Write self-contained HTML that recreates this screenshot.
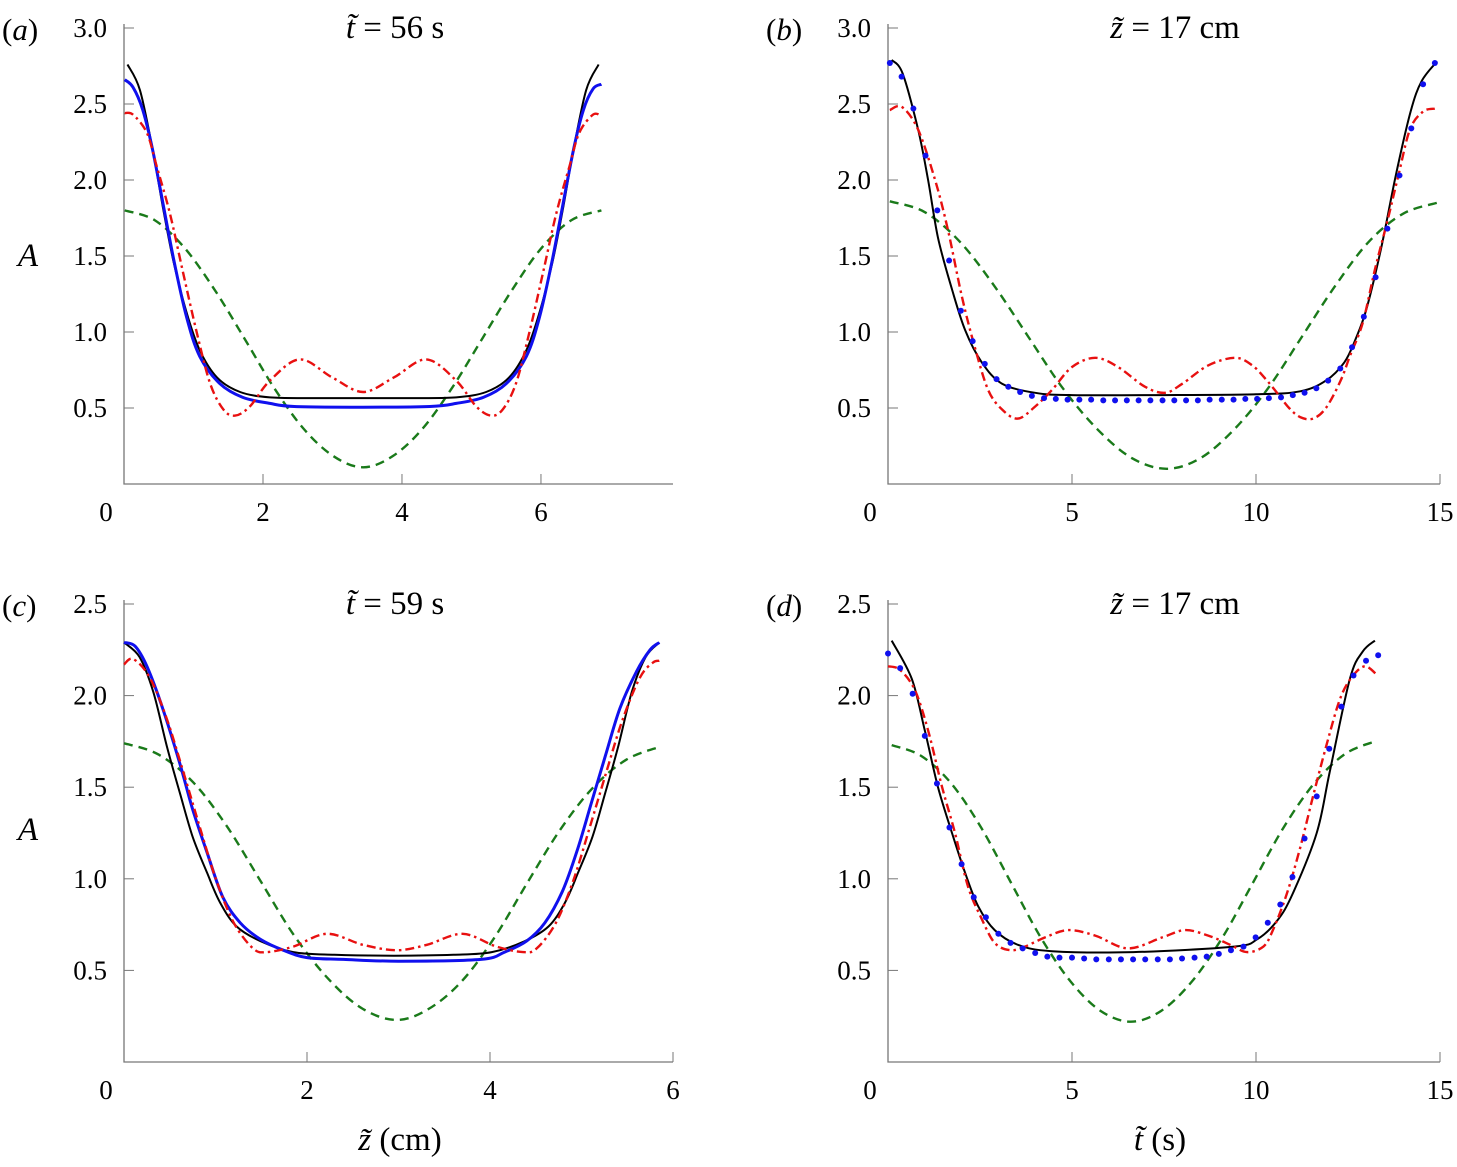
<!DOCTYPE html>
<html><head><meta charset="utf-8">
<style>
html,body{margin:0;padding:0;background:#fff;}
svg{display:block;font-family:"Liberation Serif",serif;}
</style></head>
<body>
<svg id="fig" width="1457" height="1167" viewBox="0 0 1457 1167"></svg>
<script>
// ---------- Panel (a): t = 56 s, x = z (cm) ----------
const aBlackX=[0.05,0.23,0.42,0.56,0.71,0.9,1.09,1.34,1.67,2.1,2.7,3.44,4.18,4.78,5.21,5.54,5.79,5.98,6.17,6.32,6.46,6.65,6.83];
const aBlackY=[2.76,2.59,2.18,1.82,1.47,1.13,0.88,0.70,0.605,0.57,0.565,0.565,0.565,0.57,0.605,0.70,0.88,1.13,1.47,1.82,2.18,2.59,2.76];
const aBlueX=[0.01,0.13,0.27,0.42,0.71,0.9,1.09,1.38,1.71,2.1,2.45,3.44,4.4,4.78,5.17,5.5,5.79,5.98,6.17,6.46,6.61,6.75,6.87];
const aBlueY=[2.66,2.61,2.46,2.18,1.49,1.1,0.84,0.66,0.57,0.53,0.51,0.505,0.51,0.53,0.57,0.66,0.84,1.1,1.49,2.18,2.46,2.6,2.63];
const aRedX=[0.01,0.13,0.33,0.47,0.66,0.85,1.05,1.24,1.43,1.6,1.81,2.1,2.53,3.0,3.44,3.88,4.35,4.78,5.07,5.28,5.45,5.64,5.83,6.03,6.22,6.41,6.55,6.75,6.87];
const aRedY=[2.44,2.43,2.31,2.09,1.78,1.39,0.99,0.66,0.49,0.45,0.51,0.68,0.82,0.7,0.605,0.7,0.82,0.68,0.51,0.45,0.49,0.66,0.99,1.39,1.78,2.09,2.31,2.43,2.42];
const aGreenX=[0.01,0.44,0.87,1.3,1.73,2.15,2.58,3.01,3.44,3.87,4.3,4.73,5.16,5.59,6.01,6.44,6.87];
const aGreenY=[1.8,1.736,1.554,1.281,0.96,0.639,0.366,0.184,0.11,0.184,0.366,0.639,0.96,1.281,1.554,1.736,1.8];
// ---------- Panel (b): z = 17 cm, x = t (s) ----------
const bBlackX=[0.1,0.4,0.82,1.09,1.36,1.74,2.1,2.55,3.1,4.0,5.0,7.5,10.0,11.2,11.9,12.4,12.7,13.0,13.4,13.8,14.2,14.5,14.92];
const bBlackY=[2.79,2.7,2.33,2.0,1.62,1.28,1.01,0.8,0.66,0.6,0.585,0.585,0.59,0.61,0.68,0.8,0.95,1.15,1.55,2.03,2.45,2.65,2.78];
const bDotX=[0.05,0.37,0.69,1.02,1.34,1.66,1.98,2.30,2.63,2.95,3.27,3.59,3.91,4.24,4.56,4.88,5.20,5.52,5.85,6.17,6.49,6.81,7.13,7.46,7.78,8.10,8.42,8.74,9.07,9.39,9.71,10.03,10.35,10.68,11.00,11.32,11.64,11.96,12.29,12.61,12.93,13.25,13.57,13.90,14.22,14.54,14.86];
const bDotY=[2.77,2.68,2.47,2.16,1.8,1.47,1.14,0.94,0.79,0.69,0.64,0.605,0.58,0.565,0.56,0.555,0.555,0.555,0.55,0.55,0.55,0.55,0.55,0.55,0.55,0.55,0.55,0.555,0.555,0.555,0.56,0.56,0.565,0.57,0.585,0.6,0.63,0.68,0.76,0.9,1.1,1.36,1.68,2.03,2.34,2.63,2.77];
const bRedX=[0.05,0.38,0.82,1.28,1.63,2.01,2.36,2.72,3.1,3.53,4.0,4.46,5.0,5.63,6.25,6.98,7.53,8.0,8.7,9.43,9.9,10.3,10.57,10.9,11.2,11.55,11.9,12.3,12.55,12.9,13.23,13.56,13.86,14.18,14.54,14.86];
const bRedY=[2.46,2.48,2.33,2.0,1.67,1.23,0.9,0.62,0.49,0.43,0.51,0.62,0.77,0.83,0.77,0.64,0.6,0.66,0.78,0.83,0.78,0.68,0.6,0.5,0.44,0.43,0.5,0.68,0.84,1.06,1.41,1.72,2.02,2.33,2.45,2.47];
const bGreenX=[0.05,0.99,1.93,2.87,3.81,4.75,5.69,6.63,7.57,8.49,9.41,10.33,11.25,12.17,13.09,14.01,14.92];
const bGreenY=[1.86,1.79,1.6,1.31,0.97,0.63,0.36,0.17,0.1,0.17,0.36,0.63,0.97,1.31,1.6,1.78,1.85];
// ---------- Panel (c): t = 59 s ----------
const cBlackX=[0.0,0.17,0.32,0.47,0.61,0.75,0.91,1.05,1.23,1.49,1.85,2.3,2.95,3.6,4.02,4.38,4.64,4.82,4.96,5.12,5.26,5.4,5.55,5.7,5.85];
const cBlackY=[2.29,2.21,2.02,1.72,1.47,1.23,1.03,0.87,0.74,0.66,0.6,0.585,0.58,0.585,0.6,0.66,0.74,0.87,1.03,1.23,1.47,1.72,2.02,2.21,2.29];
const cBlueX=[0.0,0.12,0.25,0.43,0.61,0.75,0.91,1.08,1.27,1.49,1.74,2.0,2.4,3.0,3.9,4.16,4.4,4.6,4.79,4.95,5.1,5.26,5.42,5.6,5.75,5.85];
const cBlueY=[2.29,2.27,2.16,1.92,1.63,1.38,1.14,0.9,0.76,0.67,0.61,0.57,0.56,0.55,0.56,0.6,0.66,0.76,0.93,1.15,1.4,1.67,1.93,2.13,2.25,2.29];
const cRedX=[0.0,0.1,0.28,0.47,0.65,0.83,1.01,1.2,1.41,1.56,1.85,2.22,2.61,2.98,3.31,3.7,4.07,4.36,4.51,4.72,4.91,5.09,5.27,5.45,5.64,5.78,5.85];
const cRedY=[2.17,2.2,2.1,1.87,1.58,1.28,0.99,0.76,0.62,0.6,0.63,0.7,0.64,0.61,0.64,0.7,0.63,0.6,0.62,0.76,0.99,1.28,1.58,1.87,2.1,2.18,2.19];
const cGreenX=[0.0,0.37,0.75,1.12,1.49,1.86,2.24,2.61,2.98,3.33,3.69,4.05,4.41,4.77,5.13,5.49,5.85];
const cGreenY=[1.74,1.68,1.53,1.29,0.99,0.69,0.45,0.29,0.23,0.29,0.44,0.68,0.98,1.27,1.5,1.65,1.72];
// ---------- Panel (d): z = 17 cm ----------
const dBlackX=[0.1,0.65,1.0,1.36,1.74,2.1,2.45,2.9,3.53,4.46,6.67,9.4,10.03,10.57,11.0,11.65,12.0,12.55,12.9,13.23];
const dBlackY=[2.3,2.09,1.81,1.5,1.25,1.03,0.85,0.72,0.64,0.605,0.6,0.63,0.67,0.77,0.92,1.25,1.58,2.09,2.24,2.3];
const dDotX=[0,0.33,0.67,1.0,1.33,1.67,2.0,2.33,2.66,3.0,3.33,3.66,4.0,4.33,4.66,5.0,5.33,5.66,6.0,6.33,6.66,6.99,7.33,7.66,7.99,8.33,8.66,8.99,9.32,9.66,9.99,10.32,10.66,10.99,11.32,11.65,11.99,12.32,12.65,12.99,13.32];
const dDotY=[2.23,2.15,2.01,1.78,1.52,1.28,1.08,0.9,0.79,0.7,0.65,0.62,0.595,0.575,0.57,0.57,0.565,0.56,0.56,0.56,0.56,0.56,0.56,0.56,0.565,0.57,0.575,0.59,0.61,0.63,0.68,0.76,0.86,1.01,1.22,1.45,1.71,1.94,2.11,2.19,2.22];
const dRedX=[0.0,0.33,0.73,1.09,1.47,1.82,2.17,2.55,2.9,3.32,3.72,4.27,4.89,5.63,6.52,7.45,8.07,8.7,9.3,9.75,10.2,10.46,10.84,11.2,11.55,11.93,12.28,12.6,12.96,13.3];
const dRedY=[2.16,2.14,2.03,1.81,1.5,1.25,0.96,0.78,0.65,0.61,0.63,0.68,0.72,0.69,0.62,0.68,0.72,0.69,0.64,0.6,0.63,0.72,0.92,1.17,1.45,1.74,1.98,2.1,2.16,2.11];
const dGreenX=[0.1,0.91,1.72,2.53,3.34,4.15,4.96,5.77,6.6,7.43,8.26,9.09,9.92,10.75,11.58,12.41,13.23];
const dGreenY=[1.73,1.67,1.52,1.28,0.98,0.68,0.44,0.28,0.22,0.28,0.44,0.68,0.98,1.28,1.52,1.68,1.75];

const xTicksA=[2,4,6], xTicksB=[5,10,15], xTicksC=[2,4,6], xTicksD=[5,10,15];
const yTicksTop=[0.5,1.0,1.5,2.0,2.5,3.0], yTicksBot=[0.5,1.0,1.5,2.0,2.5];

const NS="http://www.w3.org/2000/svg";
const svg=document.getElementById('fig');
function el(tag,attrs,parent){const e=document.createElementNS(NS,tag);for(const k in attrs)e.setAttribute(k,attrs[k]);(parent||svg).appendChild(e);return e;}
function smoothPath(px,py){
  let d=`M${px[0].toFixed(1)},${py[0].toFixed(1)}`;
  for(let i=0;i<px.length-1;i++){
    const x0=px[Math.max(0,i-1)],y0=py[Math.max(0,i-1)],x1=px[i],y1=py[i],x2=px[i+1],y2=py[i+1],x3=px[Math.min(px.length-1,i+2)],y3=py[Math.min(px.length-1,i+2)];
    d+=` C${(x1+(x2-x0)/6).toFixed(1)},${(y1+(y2-y0)/6).toFixed(1)} ${(x2-(x3-x1)/6).toFixed(1)},${(y2-(y3-y1)/6).toFixed(1)} ${x2.toFixed(1)},${y2.toFixed(1)}`;
  }
  return d;
}
function panel(p){
  const g=el('g',{});
  
  
  const sx=v=>p.x0+(v-p.xmin)/(p.xmax-p.xmin)*(p.x1-p.x0);
  const sy=v=>p.y0-(v-p.ymin)/(p.ymax-p.ymin)*(p.y0-p.y1);
  const ax=el('path',{d:`M${p.x0},${p.y1-4} L${p.x0},${p.y0} L${p.x1},${p.y0}`,fill:'none',stroke:'#777','stroke-width':1.3},g);
  
  
  p.yt.forEach(v=>{
    el('line',{x1:p.x0,x2:p.x0+10,y1:sy(v),y2:sy(v),stroke:'#777','stroke-width':1},g);
    const t=el('text',{x:p.x0-17,y:sy(v)+9,'text-anchor':'end','font-size':27},g);
    t.textContent=v.toFixed(1);
    
    
  });
  el('line',{x1:p.x0,x2:p.x0,y1:p.y0,y2:p.y0-10,stroke:'#777','stroke-width':1},g);
  const z=el('text',{x:p.x0-18,y:p.y0+37,'text-anchor':'middle','font-size':27},g);
  z.textContent='0';
  
  
  p.xt.forEach(v=>{
    el('line',{x1:sx(v),x2:sx(v),y1:p.y0,y2:p.y0-10,stroke:'#777','stroke-width':1},g);
    const t=el('text',{x:sx(v),y:p.y0+37,'text-anchor':'middle','font-size':27},g);
    t.textContent=String(v);
    
    
  });
  const lab=el('text',{x:p.x0-122,y:p.y1+12,'font-size':31},g);
  lab.innerHTML='(<tspan font-style="italic">'+p.id+'</tspan>)';
  
  
  const ti=el('text',{x:p.tx,y:p.y1+10,'text-anchor':'middle','font-size':33},g);
  ti.innerHTML=p.title;
  
  
  const series=[
    {x:p.green[0],y:p.green[1],c:'#1a7a1a',w:2.4,dash:'9,6',n:'green-dashed-curve'},
    {x:p.black[0],y:p.black[1],c:'#000',w:2,dash:null,n:'black-solid-curve'}
  ];
  if(p.blue) series.push({x:p.blue[0],y:p.blue[1],c:'#1010ee',w:3,dash:null,n:'blue-experiment-curve'});
  series.push({x:p.red[0],y:p.red[1],c:'#e81010',w:2.4,dash:'9,4,2.5,4',n:'red-dashdot-curve'});
  series.forEach(s=>{
    const a={d:smoothPath(s.x.map(sx),s.y.map(sy)),fill:'none',stroke:s.c,'stroke-width':s.w};
    if(s.dash)a['stroke-dasharray']=s.dash;
    const path=el('path',a,g);
    
    
  });
  if(p.dots){
    p.dots[0].forEach((v,i)=>{
      const c=el('circle',{cx:sx(v),cy:sy(p.dots[1][i]),r:3,fill:'#1010ee'},g);
      
      
    });
  }
}
panel({id:'a',x0:124,x1:673,xmin:0,xmax:7.9,y0:484,y1:28,ymin:0,ymax:3,xt:xTicksA,yt:yTicksTop,tx:395,
  title:'<tspan font-style="italic">t&#771;</tspan> = 56 s',black:[aBlackX,aBlackY],blue:[aBlueX,aBlueY],red:[aRedX,aRedY],green:[aGreenX,aGreenY]});
panel({id:'b',x0:888,x1:1440,xmin:0,xmax:15,y0:484,y1:28,ymin:0,ymax:3,xt:xTicksB,yt:yTicksTop,tx:1175,
  title:'<tspan font-style="italic">z&#771;</tspan> = 17 cm',black:[bBlackX,bBlackY],dots:[bDotX,bDotY],red:[bRedX,bRedY],green:[bGreenX,bGreenY]});
panel({id:'c',x0:124,x1:673,xmin:0,xmax:6,y0:1062,y1:604,ymin:0,ymax:2.5,xt:xTicksC,yt:yTicksBot,tx:395,
  title:'<tspan font-style="italic">t&#771;</tspan> = 59 s',black:[cBlackX,cBlackY],blue:[cBlueX,cBlueY],red:[cRedX,cRedY],green:[cGreenX,cGreenY]});
panel({id:'d',x0:888,x1:1440,xmin:0,xmax:15,y0:1062,y1:604,ymin:0,ymax:2.5,xt:xTicksD,yt:yTicksBot,tx:1175,
  title:'<tspan font-style="italic">z&#771;</tspan> = 17 cm',black:[dBlackX,dBlackY],dots:[dDotX,dDotY],red:[dRedX,dRedY],green:[dGreenX,dGreenY]});
function txt(x,y,html,name){const t=el('text',{x:x,y:y,'text-anchor':'middle','font-size':33});t.innerHTML=html;}
txt(28,266,'<tspan font-style="italic">A</tspan>','y-axis-title-top');
txt(28,840,'<tspan font-style="italic">A</tspan>','y-axis-title-bottom');
txt(400,1150,'<tspan font-style="italic">z&#771;</tspan> (cm)','x-axis-title-left');
txt(1160,1150,'<tspan font-style="italic">t&#771;</tspan> (s)','x-axis-title-right');
</script>
</body></html>
